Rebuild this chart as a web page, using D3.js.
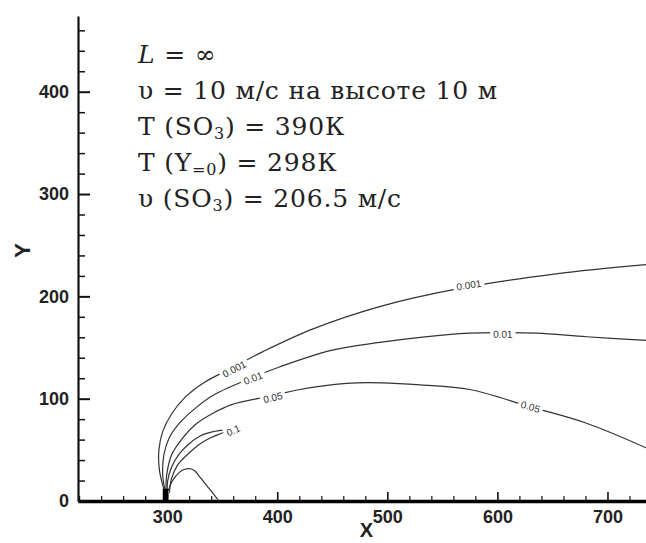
<!DOCTYPE html>
<html>
<head>
<meta charset="utf-8">
<script src="https://cdn.jsdelivr.net/npm/d3@7"></script>
<style>
body { margin: 0; background: #fff; }
</style>
</head>
<body>
<svg id="chart"></svg>
<script>
// axis ticks
var xMajor = [300, 400, 500, 600, 700];
var xMinor = [220, 240, 260, 280, 320, 340, 360, 380, 420, 440, 460, 480, 520, 540, 560, 580, 620, 640, 660, 680, 720];
var yMajor = [0, 100, 200, 300, 400];
var yMinor = [20, 40, 60, 80, 120, 140, 160, 180, 220, 240, 260, 280, 320, 340, 360, 380, 420, 440, 460];

// contour lines (x, y)
var c0001 = [[298, 8], [293, 30], [292.5, 50], [296, 68], [304, 85], [316, 101], [334, 116], [355, 128],
    [387, 146], [432, 168], [493, 190], [567, 208], [653, 222], [735, 231]];
var c001 = [[298.5, 8], [296, 25], [297, 45], [302, 62], [312, 77], [326, 91], [343, 104], [378, 121],
    [402, 131], [448, 147], [493, 155], [530, 160], [575, 164], [605, 164.5], [636, 164], [681, 160.5], [735, 157]];
var c005 = [[299, 8], [299.5, 25], [304, 45], [313, 60], [326, 75], [342, 86], [358, 94], [396, 103],
    [418, 108.5], [463, 115], [495, 115.5], [530, 113.5], [575, 109], [630, 92], [681, 76], [735, 52]];
var c01 = [[300, 8], [300.5, 20], [304, 33], [311, 46], [320, 56], [330, 63.5], [341, 67.5], [349, 69],
    [353, 68], [349, 66], [340, 62], [330, 56], [318, 45], [310, 36], [304, 22], [302, 8]];
var cHump = [[301, 10], [305, 20], [311, 28], [316, 31], [321, 31.5], [325, 29.5], [330, 23], [336, 15], [342, 7], [347, 0]];

var contours = [c0001, c001, c005, c01, cHump];

// contour labels: text, x, y, which line
var labelText = ["0.001", "0.001", "0.01", "0.01", "0.05", "0.05", "0.1"];
var labelX = [361, 574, 378, 605, 396, 630, 360];
var labelY = [129, 211, 120, 163, 101, 92, 69];
var labelLine = [0, 0, 1, 1, 2, 2, 3];

// source at the ground
var sourceX = [296, 301];
var sourceH = 12;

// annotation
var notes = [
    [{ t: "L", it: true }, { t: " = ∞" }],
    [{ t: "υ = 10 м/с на высоте 10 м" }],
    [{ t: "T (SO" }, { t: "3", sub: true }, { t: ") = 390К" }],
    [{ t: "T (Y" }, { t: "=0", sub: true }, { t: ") = 298К" }],
    [{ t: "υ (SO" }, { t: "3", sub: true }, { t: ") = 206.5 м/с" }]
];

var svgWidth = 646, svgHeight = 543;
var svg = d3.select("#chart")
    .attr("width", svgWidth)
    .attr("height", svgHeight);

svg.append("rect")
    .attr("width", svgWidth)
    .attr("height", svgHeight)
    .attr("fill", "#fff");

var x = d3.scaleLinear().domain([219, 735]).range([78, 646]);
var y = d3.scaleLinear().domain([0, 474]).range([501, 16]);

var axisFont = "'Liberation Sans', Arial, sans-serif";

// minor ticks
svg.append("g")
    .attr("transform", "translate(0,501)")
    .call(d3.axisBottom(x).tickValues(xMinor).tickSize(-5).tickFormat(""))
    .call(function(g) { g.select(".domain").remove(); })
    .selectAll("line").attr("stroke", "#111").attr("stroke-width", 1.2);

svg.append("g")
    .attr("transform", "translate(78,0)")
    .call(d3.axisLeft(y).tickValues(yMinor).tickSize(-7).tickFormat(""))
    .call(function(g) { g.select(".domain").remove(); })
    .selectAll("line").attr("stroke", "#111").attr("stroke-width", 1.5);

// major ticks with labels
var gx = svg.append("g")
    .attr("transform", "translate(0,501)")
    .call(d3.axisBottom(x).tickValues(xMajor).tickSize(-9).tickSizeOuter(0).tickPadding(9))
    .attr("font-family", axisFont)
    .attr("font-size", 18)
    .attr("font-weight", "bold");
gx.select(".domain").attr("stroke", "#000").attr("stroke-width", 3.4);
gx.selectAll(".tick line").attr("stroke", "#111").attr("stroke-width", 1.6);
gx.selectAll(".tick text").attr("fill", "#222");

var gy = svg.append("g")
    .attr("transform", "translate(78,0)")
    .call(d3.axisLeft(y).tickValues(yMajor).tickSize(-12).tickSizeOuter(0).tickPadding(9))
    .attr("font-family", axisFont)
    .attr("font-size", 18)
    .attr("font-weight", "bold");
gy.select(".domain").attr("stroke", "#111").attr("stroke-width", 2.2);
gy.selectAll(".tick line").attr("stroke", "#111").attr("stroke-width", 2);
gy.selectAll(".tick text").attr("fill", "#222");

// axis titles
svg.append("text")
    .attr("x", x(481))
    .attr("y", 537)
    .attr("text-anchor", "middle")
    .attr("font-family", axisFont)
    .attr("font-size", 20)
    .attr("font-weight", "bold")
    .attr("fill", "#222")
    .text("X");

svg.append("text")
    .attr("transform", "translate(30," + y(245) + ") rotate(-90)")
    .attr("text-anchor", "middle")
    .attr("font-family", axisFont)
    .attr("font-size", 22)
    .attr("font-weight", "bold")
    .attr("fill", "#222")
    .text("Y");

// contours
var line = d3.line()
    .x(function(d) { return x(d[0]); })
    .y(function(d) { return y(d[1]); })
    .curve(d3.curveCatmullRom.alpha(0.5));

svg.append("g")
    .selectAll("path")
    .data(contours)
    .join("path")
    .attr("fill", "none")
    .attr("stroke", "#333")
    .attr("stroke-width", 1.2)
    .attr("stroke-linejoin", "round")
    .attr("d", line);

// source
svg.append("rect")
    .attr("x", x(sourceX[0]))
    .attr("y", y(sourceH))
    .attr("width", x(sourceX[1]) - x(sourceX[0]))
    .attr("height", y(0) - y(sourceH))
    .attr("fill", "#000");

// contour labels
labelText.forEach(function(t, i) {
    var pts = contours[labelLine[i]];
    var px = x(labelX[i]), py = y(labelY[i]);
    var best = 0, bestD = Infinity;
    for (var k = 0; k < pts.length - 1; k++) {
        var mx = (x(pts[k][0]) + x(pts[k + 1][0])) / 2, my = (y(pts[k][1]) + y(pts[k + 1][1])) / 2;
        var dd = (mx - px) * (mx - px) + (my - py) * (my - py);
        if (dd < bestD) { bestD = dd; best = k; }
    }
    var a = Math.atan2(y(pts[best + 1][1]) - y(pts[best][1]), x(pts[best + 1][0]) - x(pts[best][0])) * 180 / Math.PI;
    if (a > 90) a -= 180;
    if (a < -90) a += 180;
    if (labelLine[i] == 3) a = -25;
    var g = svg.append("g").attr("transform", "translate(" + px + "," + py + ") rotate(" + a + ")");
    var w = t.length * 5.6 + 3;
    g.append("rect").attr("x", -w / 2).attr("y", -5).attr("width", w).attr("height", 10).attr("fill", "#fff");
    g.append("text")
        .attr("text-anchor", "middle")
        .attr("dy", "0.35em")
        .attr("font-family", axisFont)
        .attr("font-size", 10)
        .attr("fill", "#333")
        .text(t);
});

// annotation block
var noteG = svg.append("g")
    .attr("font-family", "'DejaVu Serif', 'Liberation Serif', serif")
    .attr("font-size", 25)
    .attr("letter-spacing", 0.8)
    .attr("fill", "#222");

notes.forEach(function(parts, i) {
    var txt = noteG.append("text")
        .attr("x", 138)
        .attr("y", 63 + i * 36)
        .attr("xml:space", "preserve");
    var shifted = false;
    parts.forEach(function(p) {
        var ts = txt.append("tspan").text(p.t);
        if (p.it) ts.attr("font-style", "italic");
        if (p.sub) { ts.attr("font-size", 16).attr("dy", 4); shifted = true; }
        else if (shifted) { ts.attr("dy", -4); shifted = false; }
    });
});
</script>
</body>
</html>
